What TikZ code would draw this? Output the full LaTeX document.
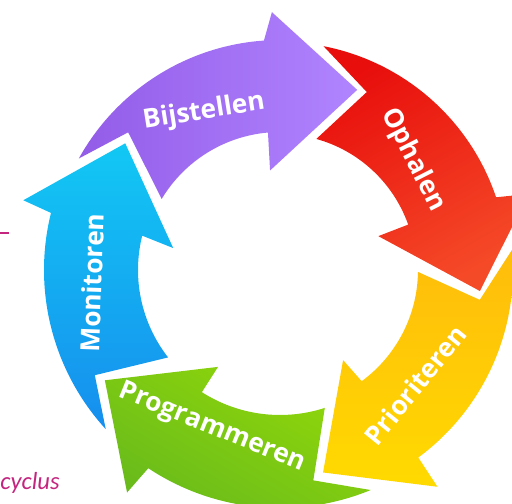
\documentclass[tikz,border=0pt]{standalone}
\usepackage{fontspec}
\setmainfont{Open Sans}
\newfontfamily\capfont{Carlito}
\usepackage{tikz}
\definecolor{paarsL}{HTML}{935CE8}
\definecolor{paarsR}{HTML}{B084FF}
\definecolor{roodT}{HTML}{E80E0C}
\definecolor{roodB}{HTML}{F54A28}
\definecolor{oranjeT}{HTML}{FFBC0C}
\definecolor{oranjeB}{HTML}{FFDA00}
\definecolor{groenT}{HTML}{90D70A}
\definecolor{groenB}{HTML}{68BA1C}
\definecolor{blauwT}{HTML}{12C8F4}
\definecolor{blauwB}{HTML}{168EEE}
\definecolor{magenta}{HTML}{C4267F}
\tikzset{stap/.style={text=white,font=\fontsize{15}{15}\selectfont\bfseries}}

\begin{document}
\begin{tikzpicture}[x=0.02cm,y=0.02cm]
\useasboundingbox (-280,-234) rectangle (232,270);
\clip (-280,-234) rectangle (232,270);

\shade[left color=paarsL, right color=paarsR] (151:230) arc[start angle=151, end angle=94, radius=230] -- (91.8:258) -- (66.8:196) -- (95.7:100) -- (95:138) arc[start angle=95, end angle=149, radius=138] -- (137.8:205) -- cycle;
\shade[top color=roodT, bottom color=roodB, shading angle=30] (79:228) arc[start angle=79, end angle=18.6, radius=228] -- (17:260) -- (-6:201) -- (19:104) -- (19.5:136) arc[start angle=19.5, end angle=74.5, radius=136] -- (64:198) -- cycle;
\shade[top color=oranjeT, bottom color=oranjeB] (5:233) arc[start angle=5, end angle=-53.6, radius=233] -- (-54:268) -- (-78:207) -- (-55:110) -- (-53.7:138) arc[start angle=-53.7, end angle=-0.8, radius=138] -- (-8.5:202) -- cycle;
\shade[top color=groenT, bottom color=groenB, shading angle=-30] (-67.6:238) arc[start angle=-67.6, end angle=-123.6, radius=238] -- (-124.5:270) -- (-147.8:207) -- (-122.6:115) -- (-122.6:145) arc[start angle=-122.6, end angle=-72, radius=145] -- (-81:213) -- cycle;
\shade[top color=blauwT, bottom color=blauwB] (222.4:236) arc[start angle=222.4, end angle=166, radius=236] -- (164.8:266) -- (140.7:200) -- (168.4:109) -- (166:142) arc[start angle=166, end angle=218, radius=142] -- (209.6:213) -- cycle;

\node[stap, rotate=9] (bijstellen) at (-76,158) {Bijstellen};
\node[stap, rotate=-63] (ophalen) at (133,110) {Ophalen};
\node[stap, rotate=51] (prioriteren) at (135,-115) {Prioriteren};
\node[stap, rotate=-22] (programmeren) at (-68,-158) {Programmeren};
\node[stap, rotate=88] (monitoren) at (-188,-13) {Monitoren};

\draw[magenta, line width=0.6pt] (-280,37) -- (-271,37);
\node[anchor=base west, inner sep=0pt, text=magenta, font=\capfont\itshape\fontsize{14}{14}\selectfont] (cyclus) at (-280,-220) {cyclus};
\end{tikzpicture}
\end{document}
